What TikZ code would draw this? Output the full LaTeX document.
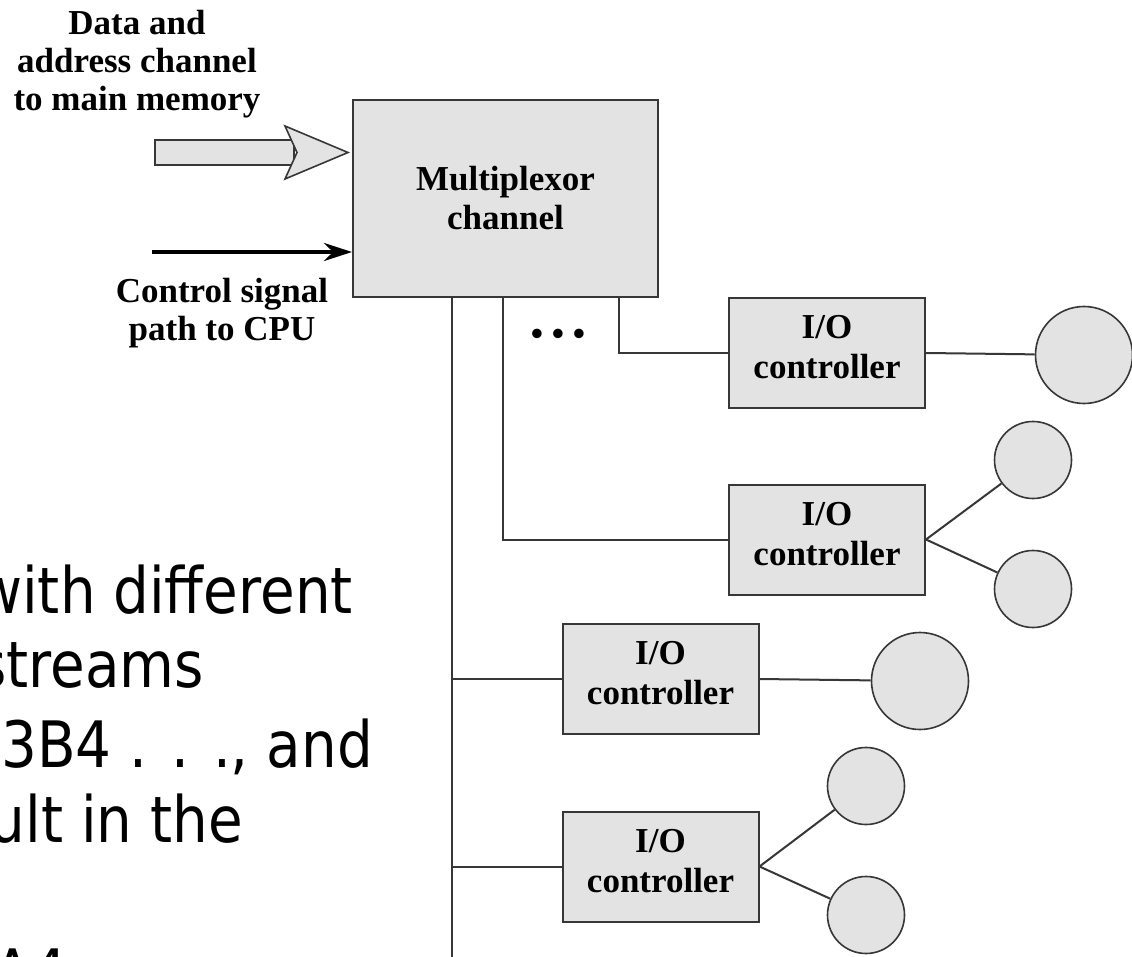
\documentclass[tikz,border=0pt]{standalone}
\usepackage{fontspec}
\setmainfont{Liberation Serif}
\newfontfamily\slidefont[FakeStretch=0.88]{DejaVu Sans}
\usetikzlibrary{arrows.meta}
\definecolor{boxfill}{RGB}{227,227,227}
\definecolor{edge}{RGB}{55,55,55}
\begin{document}
\begin{tikzpicture}[x=1pt,y=-1pt,
  lbl/.style={font=\bfseries\fontsize{35}{38}\selectfont, align=center, inner sep=0pt, text=black},
  muxbox/.style={draw=edge, line width=2pt, fill=boxfill, minimum width=305pt, minimum height=197pt, inner sep=0pt, font=\bfseries\fontsize{35}{39}\selectfont, align=center},
  iobox/.style={draw=edge, line width=2pt, fill=boxfill, minimum width=196pt, minimum height=110pt, inner sep=0pt, font=\bfseries\fontsize{35}{40}\selectfont, align=center},
  bigdev/.style={circle, draw=edge, line width=1.6pt, fill=boxfill, minimum size=97pt, inner sep=0pt},
  smalldev/.style={circle, draw=edge, line width=1.6pt, fill=boxfill, minimum size=77pt, inner sep=0pt},
  wire/.style={draw=edge, line width=2pt},
  slide/.style={font=\slidefont\fontsize{64}{76}\selectfont, inner sep=0pt}
]
\useasboundingbox (0,0) rectangle (1132,957);
\clip (0,0) rectangle (1132,957);
\fill[white] (0,0) rectangle (1132,957);

% left slide text fragments
\node[slide, anchor=base east] (t1) at (353,613) {with different};
\node[slide, anchor=base east] (t2) at (204,687) {streams};
\node[slide, anchor=base east] (t3) at (373,767) {B3B4 . . ., and};
\node[slide, anchor=base east] (t4) at (243,842) {ult in the};
\node[slide, anchor=base west] (t5) at (-7,995) {A4};

% labels on the left
\node[lbl, anchor=north] (dlabel) at (137,10) {Data and\\address channel\\to main memory};
\node[lbl, anchor=north] (clabel) at (222,278) {Control signal\\path to CPU};

% multiplexor
\node[muxbox] (mux) at (505.5,198.5) {Multiplexor\\channel};

% I/O controllers
\node[iobox] (io1) at (827,353) {I/O\\controller\strut};
\node[iobox] (io2) at (827,539.5) {I/O\\controller\strut};
\node[iobox] (io3) at (660.5,679) {I/O\\controller\strut};
\node[iobox] (io4) at (660.5,866.5) {I/O\\controller\strut};

% devices
\node[bigdev] (d1) at (1084,355) {};
\node[smalldev] (d2a) at (1033,460) {};
\node[smalldev] (d2b) at (1033,589) {};
\node[bigdev] (d3) at (920,681) {};
\node[smalldev] (d4a) at (866,786) {};
\node[smalldev] (d4b) at (866,915) {};

% fat data arrow
\filldraw[draw=edge, fill=boxfill, line width=1.6pt] (155,140) rectangle (294,165);
\filldraw[draw=edge, fill=boxfill, line width=1.6pt, line join=miter]
  (285,126) -- (348,152.5) -- (285,179) -- (297,152.5) -- cycle;

% control signal arrow
\coordinate (cs) at (152,252);
\draw[line width=4pt, -{Stealth[length=28pt,width=18pt]}] (cs) -- (cs -| mux.west);

% bus lines
\coordinate (tb) at (452,957);
\coordinate (c2) at (503,0);
\coordinate (c3) at (619,0);
\draw[wire] (tb |- mux.south) -- (tb);
\draw[wire] (c2 |- mux.south) |- (io2.west);
\draw[wire] (c3 |- mux.south) |- (io1.west);
\draw[wire] (tb |- io3.west) -- (io3.west);
\draw[wire] (tb |- io4.west) -- (io4.west);

\node[lbl, anchor=base] (dots) at (558,346) {• • •};

% controller to device lines
\draw[wire] (io1.east) -- (d1);
\draw[wire] (io2.east) -- (d2a);
\draw[wire] (io2.east) -- (d2b);
\draw[wire] (io3.east) -- (d3);
\draw[wire] (io4.east) -- (d4a);
\draw[wire] (io4.east) -- (d4b);
\end{tikzpicture}
\end{document}
